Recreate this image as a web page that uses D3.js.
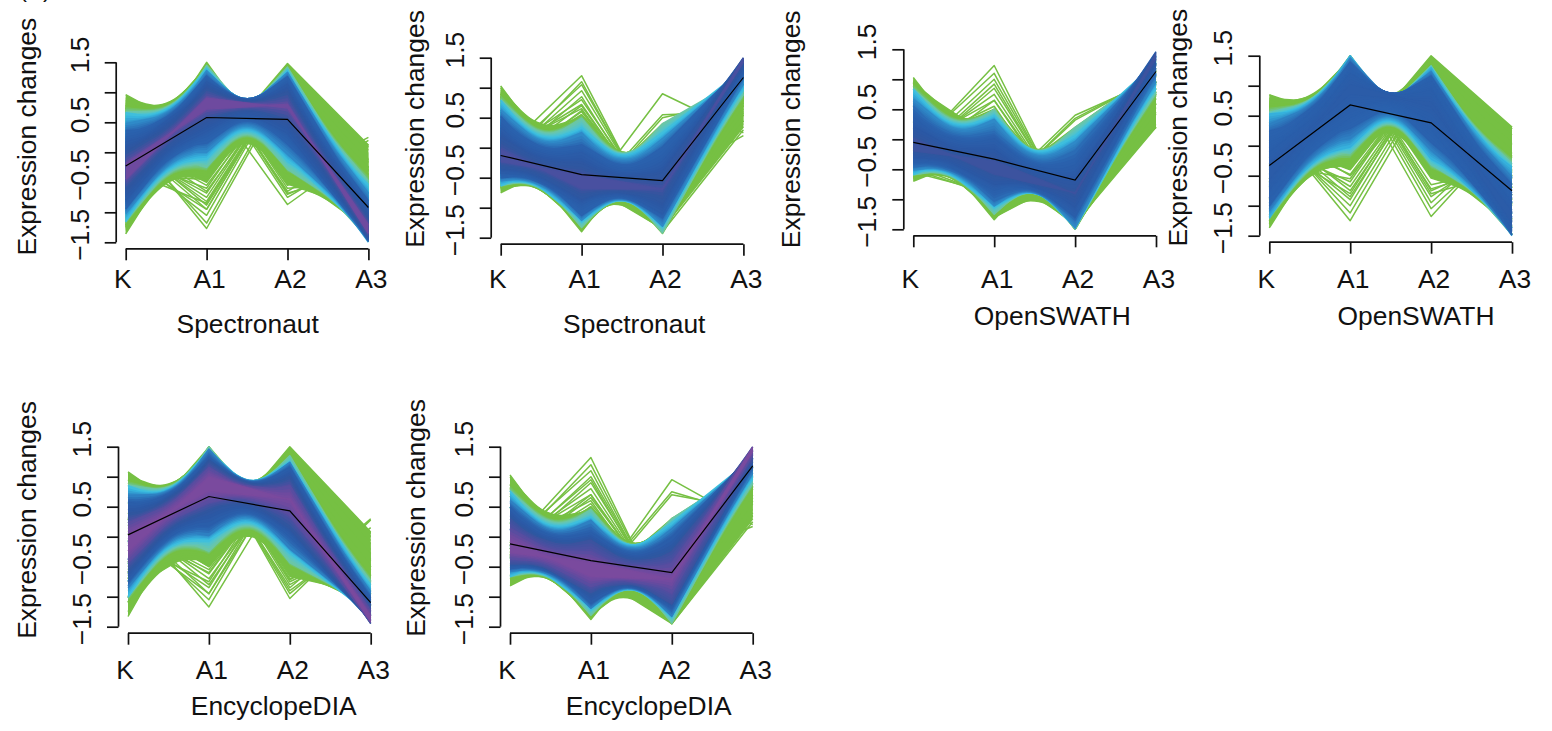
<!DOCTYPE html>
<html>
<head>
<meta charset="utf-8">
<script src="https://cdn.jsdelivr.net/npm/d3@7"></script>
<style>
  html, body { margin: 0; background: #fff; }
  text { font-family: "Liberation Sans", Arial, sans-serif; fill: #111; }
</style>
</head>
<body>
<div id="maincontainer"></div>
<script>
var stages = ["K", "A1", "A2", "A3"];
var yTicks = [-1.5, -1, -0.5, 0, 0.5, 1, 1.5];
var yLabelled = [-1.5, -0.5, 0.5, 1.5];
var yLabels = ["\u22121.5", "\u22120.5", "0.5", "1.5"];

// each row: membership, K, A1, A2, A3. rows with .3 are the stray single profiles
var spectronautUp = [
  [.98,-.45,.90,.74,-1.21],[.98,-.19,.72,.80,-1.35],
  [.9,-.37,1.07,.49,-1.23],[.9,-.63,.81,.87,-1.09],[.9,-.25,.51,1.01,-1.29],[.9,.01,.77,.63,-1.43],
  [.82,-.59,1.17,.45,-1.05],[.82,-.79,.75,.95,-.95],[.82,-.31,.35,1.13,-1.20],[.82,.17,.52,.74,-1.46],[.82,.01,1.02,.32,-1.37],
  [.74,-.29,1.27,.14,-1.15],[.74,-.80,1.19,.46,-.88],[.74,-.94,.75,.96,-.81],[.74,-.58,.29,1.26,-.99],[.74,0,.15,1.12,-1.31],[.74,.36,.45,.66,-1.49],[.74,.22,.95,.22,-1.42],
  [.66,-.55,1.36,.09,-.93],[.66,-.99,1.13,.54,-.70],[.66,-1.02,.62,1.05,-.68],[.66,-.61,.16,1.33,-.90],[.66,.01,0,1.21,-1.23],[.66,.45,.23,.76,-1.46],[.66,.48,.74,.25,-1.48],[.66,.07,1.20,-.03,-1.26],
  [.57,-.25,1.40,-.15,-1.02],[.57,-.90,1.33,.22,-.68],[.57,-1.16,.85,.82,-.54],[.57,-.90,.25,1.30,-.68],[.57,-.25,-.12,1.37,-1.02],[.57,.40,-.05,1.0,-1.36],[.57,.66,.43,.40,-1.50],[.57,.40,1.03,-.08,-1.36],
  [.5,-.62,1.45,-.10,-.76],[.5,-1.15,1.13,.46,-.48],[.5,-1.15,.49,1.10,-.48],[.5,-.62,-.07,1.42,-.76],[.5,.14,-.25,1.24,-1.16],[.5,.67,.07,.68,-1.44],[.5,.67,.71,.04,-1.44],[.5,.14,1.27,-.28,-1.16],
  [.42,-.22,1.44,-.34,-.90],[.42,-.84,1.41,-.03,-.57],[.42,-1.22,1.06,.50,-.37],[.42,-1.22,.52,1.04,-.37],[.42,-.84,-.01,1.39,-.57],[.42,-.22,-.32,1.42,-.90],[.42,.40,-.29,1.11,-1.23],[.42,.78,.06,.58,-1.43],[.42,.78,.60,.04,-1.43],[.42,.40,1.13,-.31,-1.23],
  [.34,-.55,1.50,-.37,-.60],[.34,-1.14,1.28,.13,-.29],[.34,-1.36,.77,.74,-.17],[.34,-1.14,.16,1.25,-.29],[.34,-.55,-.34,1.47,-.60],[.34,.15,-.50,1.31,-.98],[.34,.74,-.28,.81,-1.29],[.34,.96,.23,.20,-1.41],[.34,.74,.84,-.31,-1.29],[.34,.15,1.34,-.53,-.98],
  [.34,-.9,-.1,1.48,.12],[.34,-1.1,.6,.85,.12],[.34,-1.25,1.0,.3,.1],
  [.3,-.1,-.6,1.35,-.65],[.3,.1,-.75,1.3,-.65],[.3,-.3,-.85,1.28,-.13],[.3,.2,-.95,1.3,-.55],[.3,0,-1.05,1.3,-.25],[.3,.3,-1.18,1.2,-.32],[.3,.38,-1.27,1.15,-.26],[.3,-.4,-.45,1.4,-.5],[.3,.05,-.68,1.3,-.6],[.3,.22,-.88,1.25,-.55],
  [.3,-.05,-.4,1.32,-.87],[.3,.2,-.55,1.2,-.85],[.3,.1,-.48,1.3,-.9],[.3,.25,-.65,1.18,-.78],[.3,.15,-.82,1.28,-.6],[.3,-.1,-.95,1.3,-.25],
  [.3,-.9,1.0,-.87,.1],[.3,-.85,1.3,-.65,.2],[.3,-.7,1.35,-.55,-.1],[.3,-1.0,1.2,-.45,.25],[.3,-.3,1.4,-.6,-.5],[.3,-.5,1.35,-.7,-.15],[.3,-.6,1.3,-.75,.05],[.3,-.4,1.4,-.68,-.3]
];
var spectronautDown = [
  [.94,-.23,-.46,-.69,1.49],[.94,-.03,-.68,-.69,1.43],
  [.88,-.19,-.27,-.92,1.44],[.88,-.34,-.48,-.49,1.50],[.88,-.10,-.85,-.42,1.42],[.88,.17,-.64,-.85,1.36],
  [.8,-.31,-.08,-.88,1.45],[.8,-.42,-.47,-.34,1.49],[.8,-.16,-.95,-.23,1.38],[.8,.33,-.86,-.70,1.27],[.8,.16,-.33,-1.10,1.31],
  [.74,-.14,.04,-1.16,1.31],[.74,-.43,.05,-.76,1.43],[.74,-.50,-.38,-.23,1.46],[.74,-.30,-.89,.01,1.38],[.74,.16,-1.13,-.23,1.24],[.74,.52,-.89,-.74,1.16],[.74,.38,-.36,-1.17,1.19],
  [.66,-.29,.25,-1.09,1.29],[.66,-.53,.08,-.58,1.39],[.66,-.55,-.42,-.05,1.40],[.66,-.32,-.95,.15,1.31],[.66,.15,-1.21,-.07,1.17],[.66,.60,-1.04,-.58,1.07],[.66,.63,-.54,-1.11,1.06],[.66,.21,-.01,-1.31,1.15],
  [.57,-.13,.31,-1.30,1.16],[.57,-.49,.34,-.82,1.31],[.57,-.64,-.09,-.24,1.36],[.57,-.49,-.73,.25,1.31],[.57,-.13,-1.21,.22,1.16],[.57,.53,-1.24,-.26,1.01],[.57,.79,-.81,-.90,.96],[.57,.53,-.17,-1.33,1.01],
  [.5,-.33,.49,-1.12,1.18],[.5,-.63,.20,-.52,1.29],[.5,-.63,-.38,.08,1.29],[.5,-.33,-1.03,.40,1.18],[.5,.27,-1.33,.10,1.0],[.5,.80,-1.10,-.55,.89],[.5,.80,-.46,-1.19,.89],[.5,.27,.19,-1.42,1.0],
  [.42,-.11,.48,-1.36,1.02],[.42,-.45,.55,-.95,1.16],[.42,-.67,.18,-.50,1.24],[.42,-.67,-.32,0,1.24],[.42,-.45,-.87,.35,1.16],[.42,-.11,-1.28,.35,1.02],[.42,.52,-1.35,-.01,.88],[.42,.90,-1.06,-.61,.80],[.42,.90,-.53,-1.14,.80],[.42,.52,.07,-1.43,.88],
  [.34,-.30,.45,-1.21,.99],[.34,-.62,.45,-.84,1.12],[.34,-.75,-.1,-.22,1.17],[.34,-.62,-.54,.20,1.12],[.34,-.30,-1.13,.35,.99],[.34,.26,-1.40,.35,.83],[.34,.85,-1.28,-.02,.70],[.34,1.03,-.81,-.89,.65],[.34,.85,-.16,-1.36,.70],[.34,.26,.43,-1.40,.83],
  [.34,.7,-.55,-1.35,.35],[.34,.65,-1.25,-.2,.4],[.34,1.0,-.6,-.9,.45],
  [.3,-.1,1.2,-1.4,.3],[.3,-.2,1.05,-1.3,.45],[.3,-.25,.95,-1.25,.55],[.3,-.1,.8,-1.15,.45],[.3,-.3,.7,-1.2,.8],[.3,-.35,.6,-1.1,.85],[.3,.1,.5,-1.35,.75],[.3,-.05,.65,-1.3,.7],[.3,-.4,.5,-.95,.9],
  [.3,-.15,.5,-1.2,.85],[.3,-.3,.85,-1.3,.75],[.3,-.25,.55,-1.05,.75],[.3,-.4,.62,-1.0,.78],[.3,-.1,.72,-1.2,.58],[.3,-.3,1.1,-1.35,.55],
  [.3,-.25,-.9,.9,.25],[.3,-.2,-.95,.55,.6],[.3,-.3,-1.0,.5,.8],[.3,-.35,-.9,.4,.85],[.3,.85,-.6,-.55,.2]
];
var openswathDown = [
  [.92,-.19,-.36,-.91,1.43],[.92,.02,-.58,-.89,1.35],
  [.84,-.15,-.17,-1.13,1.38],[.84,-.30,-.39,-.71,1.45],[.84,-.06,-.75,-.63,1.34],[.84,.21,-.53,-1.05,1.27],
  [.78,-.27,.01,-1.08,1.40],[.78,-.37,-.38,-.55,1.46],[.78,-.12,-.85,-.43,1.32],[.78,.37,-.75,-.89,1.19],[.78,.21,-.22,-1.29,1.23],
  [.72,-.11,.13,-1.35,1.25],[.72,-.39,.12,-.96,1.40],[.72,-.46,-.30,-.44,1.43],[.72,-.27,-.81,-.19,1.33],[.72,.19,-1.03,-.41,1.17],[.72,.55,-.78,-.92,1.07],[.72,.41,-.26,-1.34,1.10],
  [.66,-.25,.33,-1.28,1.25],[.66,-.49,.16,-.78,1.38],[.66,-.51,-.35,-.25,1.38],[.66,-.28,-.86,-.04,1.27],[.66,.18,-1.11,-.24,1.09],[.66,.64,-.94,-.74,.96],[.66,.67,-.43,-1.27,.96],[.66,.25,.08,-1.48,1.07],
  [.57,-.09,.39,-1.47,1.10],[.57,-.44,.40,-1.01,1.28],[.57,-.59,-.04,-.44,1.36],[.57,-.44,-.67,.06,1.28],[.57,-.09,-1.13,.05,1.10],[.57,.57,-1.14,-.41,.92],[.57,.84,-.70,-1.04,.84],[.57,.57,-.07,-1.48,.92],
  [.5,-.30,.50,-1.29,1.15],[.5,-.59,.25,-.75,1.30],[.5,-.59,-.40,-.12,1.30],[.5,-.30,-.97,.20,1.15],[.5,.30,-1.25,-.05,.93],[.5,.84,-1.0,-.69,.78],[.5,.84,-.37,-1.32,.78],[.5,.30,.27,-1.50,.93],
  [.42,-.08,.50,-1.50,.97],[.42,-.42,.50,-1.11,1.15],[.42,-.62,.22,-.72,1.26],[.42,-.62,-.35,-.17,1.26],[.42,-.42,-.81,.20,1.15],[.42,-.08,-1.21,.15,.97],[.42,.55,-1.26,-.15,.79],[.42,.94,-.97,-.73,.68],[.42,.94,-.43,-1.27,.68],[.42,.55,.15,-1.50,.79],
  [.34,-.26,.30,-1.38,.96],[.34,-.58,.25,-.77,1.13],[.34,-.70,-.15,-.37,1.19],[.34,-.58,-.55,.03,1.13],[.34,-.26,-1.07,.13,.96],[.34,.29,-1.34,.12,.76],[.34,.89,-1.20,-.33,.59],[.34,1.03,-.72,-.98,.53],[.34,.89,-.01,-1.47,.59],[.34,.29,.30,-1.50,.76],
  [.34,.7,-.5,-1.4,.2],[.34,.5,-1.3,-.6,.25],[.34,.95,-.8,-.9,.2],
  [.3,-.2,1.23,-1.45,.42],[.3,-.15,1.1,-1.4,.45],[.3,-.25,1.0,-1.35,.6],[.3,-.3,.85,-1.3,.75],[.3,-.2,.75,-1.3,.75],[.3,-.35,.65,-1.25,.95],[.3,-.1,.55,-1.4,.95],[.3,.05,.42,-1.45,.85],
  [.3,-.25,.45,-1.1,.9],[.3,-.35,.5,-1.2,1.05],[.3,-.1,.65,-1.35,.8],[.3,-.3,.92,-1.35,.73],[.3,-.2,.35,-1.0,.85],
  [.3,-.55,-.9,.4,1.0],[.3,-.5,-.95,.35,1.05],[.3,-.45,-.95,.32,1.05],[.3,.6,-.7,-1.0,.2]
];
var openswathUp = [
  [.8,-.56,1.02,.65,-1.10],[.8,-.30,.86,.73,-1.28],
  [.78,-.48,1.20,.41,-1.13],[.78,-.73,.92,.77,-.96],[.78,-.36,.64,.93,-1.21],[.78,-.11,.92,.57,-1.38],
  [.76,-.68,1.27,.35,-.94],[.76,-.87,.83,.85,-.82],[.76,-.41,.47,1.07,-1.12],[.76,.05,.67,.71,-1.43],[.76,-.10,1.16,.27,-1.33],
  [.74,-.38,1.39,.06,-1.07],[.74,-.87,1.27,.34,-.74],[.74,-1.0,.82,.83,-.65],[.74,-.66,.39,1.16,-.88],[.74,-.10,.29,1.06,-1.26],[.74,.24,.62,.63,-1.49],[.74,.11,1.11,.18,-1.40],
  [.68,-.63,1.46,0,-.83],[.68,-1.05,1.18,.41,-.54],[.68,-1.08,.68,.93,-.53],[.68,-.68,.25,1.23,-.79],[.68,-.09,.12,1.16,-1.19],[.68,.33,.40,.75,-1.48],[.68,.36,.91,.23,-1.49],[.68,-.04,1.34,-.07,-1.23],
  [.6,-.34,1.50,-.22,-.95],[.6,-.96,1.38,.10,-.53],[.6,-1.21,.88,.68,-.36],[.6,-.96,.30,1.18,-.53],[.6,-.34,-.02,1.30,-.95],[.6,.28,.10,.98,-1.37],[.6,.53,.60,.40,-1.50],[.6,.28,1.18,-.10,-1.37],
  [.52,-.69,1.50,-.19,-.64],[.52,-1.19,1.16,.33,-.30],[.52,-1.19,.52,.97,-.30],[.52,-.69,0,1.33,-.64],[.52,.05,-.12,1.21,-1.14],[.52,.55,.24,.69,-1.48],[.52,.55,.88,.05,-1.48],[.52,.05,1.40,-.31,-1.14],
  [.42,-.30,1.50,-.40,-.83],[.42,-.89,1.45,-.13,-.43],[.42,-1.26,1.08,.37,-.18],[.42,-1.26,.54,.91,-.18],[.42,-.89,.04,1.28,-.43],[.42,-.30,-.23,1.36,-.83],[.42,.29,-.15,1.09,-1.23],[.42,.66,.22,.59,-1.48],[.42,.66,.76,.05,-1.48],[.42,.29,1.26,-.32,-1.23],
  [.34,-.60,1.50,-.43,-.51],[.34,-1.16,1.29,.02,-.13],[.34,-1.37,.76,.61,.01],[.34,-1.16,.17,1.14,-.13],[.34,-.60,-.28,1.40,-.51],[.34,.08,-.39,1.29,-.97],[.34,.64,-.13,.84,-1.35],[.34,.85,.40,.25,-1.49],[.34,.64,.99,-.28,-1.35],[.34,.08,1.44,-.54,-.97],
  [.34,-.85,-.1,1.5,.31],[.34,-1.1,.5,.9,.31],[.34,-1.3,1.1,.4,.25],
  [.3,0,-.6,1.35,-.7],[.3,.3,-.75,1.2,-.7],[.3,.2,-.9,1.3,-.55],[.3,.25,-1.0,1.2,-.4],[.3,.35,-1.12,1.15,-.35],[.3,.4,-1.25,1.05,-.2],[.3,-.3,-.55,1.35,-.45],[.3,.15,-.48,1.3,-.9],
  [.3,.1,-.4,1.3,-1.0],[.3,.3,-.5,1.1,-.9],[.3,.15,-.68,1.25,-.7],[.3,.3,-.85,1.2,-.65],[.3,0,-.8,1.3,-.5],
  [.3,-.55,1.45,-.75,-.15],[.3,-.7,1.35,-.95,.3],[.3,-.65,1.2,-1.18,.3],[.3,-.6,1.3,-1.05,.2],[.3,-.2,1.4,-.8,-.4],[.3,-.9,.9,.1,.31],[.3,-.4,1.4,-.65,-.35],[.3,-.55,1.35,-.85,.05],[.3,-.35,1.35,-.72,-.3]
];
var encyclopediaUp = [
  [1,-.24,.99,.61,-1.33],[1,.04,.77,.63,-1.41],
  [.96,-.16,1.15,.35,-1.32],[.96,-.43,.92,.76,-1.24],[.96,-.04,.57,.85,-1.36],[.96,.23,.80,.44,-1.44],
  [.9,-.39,1.27,.34,-1.21],[.9,-.59,.88,.87,-1.14],[.9,-.11,.42,1.0,-1.30],[.9,.39,.53,.55,-1.45],[.9,.23,1.05,.14,-1.40],
  [.78,-.09,1.33,0,-1.23],[.78,-.62,1.31,.37,-1.07],[.78,-.75,.88,.90,-1.02],[.78,-.39,.38,1.15,-1.14],[.78,.21,.18,.95,-1.32],[.78,.57,.43,.45,-1.44],[.78,.44,.96,.02,-1.39],
  [.68,-.37,1.46,-.01,-1.07],[.68,-.82,1.27,.49,-.93],[.68,-.85,.77,1.01,-.92],[.68,-.43,.26,1.24,-1.05],[.68,.21,.02,1.05,-1.25],[.68,.66,.21,.55,-1.39],[.68,.69,.71,.03,-1.40],[.68,.27,1.22,-.20,-1.27],
  [.57,-.08,1.45,-.27,-1.09],[.57,-.74,1.45,.18,-.88],[.57,-1.01,1.01,.81,-.80],[.57,-.74,.38,1.25,-.88],[.57,-.08,-.07,1.25,-1.09],[.57,.58,-.07,.80,-1.30],[.57,.85,.37,.17,-1.38],[.57,.58,1.0,-.27,-1.30],
  [.5,-.46,1.50,-.16,-.91],[.5,-1.0,1.28,.46,-.74],[.5,-1.0,.65,1.09,-.74],[.5,-.46,.03,1.35,-.91],[.5,.32,-.24,1.08,-1.15],[.5,.86,.02,.46,-1.32],[.5,.86,.65,-.17,-1.32],[.5,.32,1.27,-.43,-1.15],
  [.42,-.07,1.49,-.45,-.96],[.42,-.70,1.50,-.06,-.76],[.42,-1.09,1.23,.51,-.64],[.42,-1.09,.69,1.05,-.64],[.42,-.70,.12,1.35,-.76],[.42,-.07,-.27,1.31,-.96],[.42,.56,-.31,.92,-1.16],[.42,.95,-.01,.35,-1.28],[.42,.95,.53,-.19,-1.28],[.42,.56,1.10,-.49,-1.16],
  [.34,-.42,1.50,-.41,-.74],[.34,-1.02,1.43,.15,-.55],[.34,-1.25,.94,.78,-.48],[.34,-1.02,.31,1.27,-.55],[.34,-.42,-.25,1.42,-.74],[.34,.30,-.50,1.17,-.96],[.34,.90,-.35,.61,-1.15],[.34,1.08,.14,-.02,-1.22],[.34,.90,.77,-.51,-1.15],[.34,.30,1.33,-.66,-.96],
  [.34,-.9,-.1,1.5,.08],[.34,-1.1,.55,.9,.05],[.34,-1.33,1.05,.3,0],
  [.3,.1,-.6,1.25,-.75],[.3,.25,-.7,1.1,-.65],[.3,.05,-.85,1.3,-.5],[.3,.3,-.95,1.15,-.5],[.3,.2,-1.05,1.25,-.4],[.3,.4,-1.17,1.05,-.28],[.3,-.1,-.75,1.35,-.5],[.3,.15,-.55,1.2,-.8],
  [.3,.1,-.4,1.25,-.95],[.3,.3,-.5,1.1,-.9],[.3,.2,-.62,1.2,-.78],[.3,.3,-.8,1.15,-.65],[.3,.05,-.95,1.28,-.38],
  [.3,-.6,1.35,-1.03,.28],[.3,-.65,1.3,-.95,.15],[.3,-.7,1.25,-.85,.3],[.3,-.5,1.4,-.75,-.1],[.3,-.75,1.3,-.9,.08],[.3,-.45,1.35,-.7,-.2],[.3,-.55,1.38,-.8,-.05],[.3,-.6,1.3,-.72,.02]
];
var encyclopediaDown = [
  [1,-.26,-.44,-.71,1.49],[1,-.06,-.66,-.71,1.43],
  [.96,-.22,-.25,-.94,1.44],[.96,-.37,-.46,-.51,1.50],[.96,-.13,-.83,-.44,1.42],[.96,.14,-.62,-.87,1.36],
  [.92,-.34,-.06,-.90,1.45],[.92,-.45,-.45,-.36,1.49],[.92,-.19,-.93,-.25,1.38],[.92,.30,-.84,-.72,1.27],[.92,.13,-.31,-1.12,1.31],
  [.78,-.17,.06,-1.18,1.31],[.78,-.46,.07,-.78,1.43],[.78,-.53,-.36,-.25,1.46],[.78,-.33,-.87,-.01,1.38],[.78,.13,-1.11,-.25,1.24],[.78,.49,-.87,-.76,1.16],[.78,.35,-.34,-1.19,1.19],
  [.68,-.32,.27,-1.11,1.29],[.68,-.56,.10,-.60,1.39],[.68,-.58,-.40,-.07,1.40],[.68,-.35,-.93,.13,1.31],[.68,.12,-1.19,-.09,1.17],[.68,.57,-1.02,-.60,1.07],[.68,.60,-.52,-1.13,1.06],[.68,.18,.01,-1.33,1.15],
  [.57,-.16,.33,-1.32,1.16],[.57,-.52,.33,-.84,1.31],[.57,-.67,-.1,-.3,1.36],[.57,-.52,-.71,.23,1.31],[.57,-.16,-1.19,.20,1.16],[.57,.50,-1.22,-.28,1.01],[.57,.76,-.79,-.92,.96],[.57,.50,-.15,-1.35,1.01],
  [.5,-.36,.45,-1.14,1.18],[.5,-.66,.18,-.58,1.29],[.5,-.66,-.42,.02,1.29],[.5,-.36,-1.01,.30,1.18],[.5,.24,-1.31,.08,1.0],[.5,.77,-1.08,-.57,.89],[.5,.77,-.44,-1.21,.89],[.5,.24,.21,-1.44,1.0],
  [.42,-.14,.48,-1.38,1.02],[.42,-.48,.50,-.97,1.16],[.42,-.70,.13,-.53,1.24],[.42,-.70,-.38,-.02,1.24],[.42,-.48,-.85,.30,1.16],[.42,-.14,-1.26,.28,1.02],[.42,.49,-1.33,-.03,.88],[.42,.87,-1.04,-.63,.80],[.42,.87,-.51,-1.16,.80],[.42,.49,.09,-1.45,.88],
  [.34,-.33,.45,-1.23,.99],[.34,-.65,.45,-.86,1.12],[.34,-.82,-.13,-.27,1.17],[.34,-.65,-.55,.15,1.12],[.34,-.33,-1.11,.30,.99],[.34,.23,-1.38,.30,.83],[.34,.82,-1.26,-.04,.70],[.34,1.03,-.79,-.91,.65],[.34,.82,-.14,-1.38,.70],[.34,.23,.42,-1.42,.83],
  [.34,.72,-.6,-1.45,.3],[.34,.68,-1.3,-.3,.35],[.34,1.0,-.65,-.85,.4],
  [.3,-.15,1.32,-1.45,.25],[.3,-.2,1.2,-1.4,.4],[.3,-.1,1.1,-1.4,.35],[.3,-.25,1.0,-1.3,.55],[.3,-.3,.9,-1.25,.7],[.3,-.15,.8,-1.25,.6],[.3,-.35,.7,-1.2,.85],[.3,-.1,.6,-1.3,.8],[.3,-.4,.5,-1.0,.9],
  [.3,-.2,.45,-1.15,.9],[.3,-.3,.55,-1.1,.85],[.3,-.2,.95,-1.35,.6],[.3,-.1,.7,-1.25,.65],[.3,-.35,.65,-1.15,.85],[.3,-.3,.42,-.95,.83],
  [.3,-.2,-.95,.95,.2],[.3,-.25,-.85,.75,.35],[.3,-.25,-.9,.7,.45],[.3,-.3,-1.0,.3,.95],[.3,-.35,-.95,.22,1.05],[.3,-.3,-1.05,.15,1.2],[.3,.8,-.65,-.35,.17]
];

var colourStops = [.3, .42, .5, .54, .58, .66, .74, .84, .9, .95, .98, 1];
var colourValues = ["#76c043", "#76c043", "#6ac6a8", "#52c4cc", "#38bde2", "#2f8ac8", "#2a62ae", "#2b58a4", "#30569f", "#4f4ea0", "#6e4a9f", "#7a4a9e"];
var colour = d3.scaleLinear().domain(colourStops).range(colourValues);

var panels = [
  { lines: spectronautUp, centre: [-.23,.58,.55,-.92], title: "Spectronaut", left: 125.7, top: 62.3, labX: -89.7, labY: 74.3, tickY: 225.7, titleX: 122, titleY: 270.4 },
  { lines: spectronautDown, centre: [-.13,-.45,-.55,1.17], title: "Spectronaut", left: 500.7, top: 57.7, labX: -76.4, labY: 71.3, tickY: 230.3, titleX: 133.6, titleY: 275 },
  { lines: openswathDown, centre: [-.05,-.33,-.68,1.13], title: "OpenSWATH", left: 913.3, top: 49.3, labX: -113, labY: 80, tickY: 238.7, titleX: 139, titleY: 275.7 },
  { lines: openswathUp, centre: [-.33,.68,.38,-.75], title: "OpenSWATH", left: 1269.3, top: 55.7, labX: -82.6, labY: 72, tickY: 232.3, titleX: 146.7, titleY: 269.3 },
  { lines: encyclopediaUp, centre: [.03,.67,.43,-1.1], title: "EncyclopeDIA", left: 128, top: 446.7, labX: -92, labY: 73.3, tickY: 232.3, titleX: 145.7, titleY: 268.3 },
  { lines: encyclopediaDown, centre: [-.12,-.4,-.6,1.18], title: "EncyclopeDIA", left: 510, top: 446.7, labX: -85, labY: 71.3, tickY: 232.3, titleX: 138.7, titleY: 268.3 }
];

var svg = d3.select("#maincontainer").append("svg")
  .attr("width", 1552).attr("height", 731).style("display", "block");

svg.append("text").attr("x", 19).attr("y", -3.5).attr("font-size", 24).text("(A)");

var perStage = 20;

// value of a profile at stage position t (0 to 3)
function valueAt(row, t) {
  var i = Math.min(Math.floor(t), 2);
  return row[i + 1] + (row[i + 2] - row[i + 1]) * (t - i);
}

// upper and lower edge of a group of profiles, rounded off between the stages
function envelope(rows) {
  var raw = d3.range(0, 3 * perStage + 1).map(function(k) {
    var vals = rows.map(function(r) { return valueAt(r, k / perStage); });
    return { t: k / perStage, low: d3.min(vals), high: d3.max(vals) };
  });
  return raw.map(function(d, k) {
    var seg = Math.min(Math.floor(k / perStage), 2);
    var from = seg * perStage, to = from + perStage;
    if (k === from || k === to) return d;
    var w = Math.min(4, k - from, to - k);
    var near = raw.slice(k - w, k + w + 1);
    return { t: d.t, low: d3.mean(near, function(n) { return n.low; }), high: d3.mean(near, function(n) { return n.high; }) };
  });
}

panels.forEach(function(p) {
  var x = d3.scalePoint().domain(stages).range([0, 242.7]);
  var xPos = d3.scaleLinear().domain([0, 3]).range([0, 242.7]);
  var y = d3.scaleLinear().domain([-1.5, 1.5]).range([180, 0]);
  var g = svg.append("g").attr("transform", "translate(" + p.left + "," + p.top + ")");

  var line = d3.line().x(function(d, i) { return xPos(i); }).y(function(d) { return y(d); });
  var band = d3.area().x(function(d) { return xPos(d.t); })
    .y0(function(d) { return y(d.low); }).y1(function(d) { return y(d.high); });

  // low membership first, so the core ends on top
  var tiers = d3.groups(p.lines, function(d) { return d[0]; })
    .sort(function(a, b) { return a[0] - b[0]; });

  tiers.forEach(function(tier, i) {
    var m = tier[0], rows = tier[1];
    g.selectAll(null).data(rows).enter().append("path")
      .attr("fill", "none")
      .attr("stroke-linejoin", "round")
      .attr("stroke", colour(m))
      .attr("stroke-width", 1.5)
      .attr("d", function(d) { return line(d.slice(1)); });
    if (m === .3) return;

    var edge = envelope(rows);
    g.append("path").attr("fill", colour(m)).attr("d", band(edge));

    // soft steps between this group and the next one in
    if (i + 1 < tiers.length) {
      var nextEdge = envelope(tiers[i + 1][1]);
      [.25, .5, .75].forEach(function(s) {
        var mixed = edge.map(function(d, k) {
          return { t: d.t, low: d.low + (nextEdge[k].low - d.low) * s, high: d.high + (nextEdge[k].high - d.high) * s };
        });
        g.append("path").attr("fill", colour(m + (tiers[i + 1][0] - m) * s)).attr("d", band(mixed));
      });
    }
  });

  g.append("path").attr("fill", "none").attr("stroke", "#000").attr("stroke-width", 1.2)
    .attr("d", line(p.centre));

  var xAxis = g.append("g").attr("transform", "translate(0,186.5)")
    .call(d3.axisBottom(x).tickSize(11.5).tickFormat(""));
  var yAxis = g.append("g").attr("transform", "translate(-9.5,0)")
    .call(d3.axisLeft(y).tickValues(yTicks).tickSize(11.5).tickFormat(""));
  [xAxis, yAxis].forEach(function(a) {
    a.selectAll("path,line").attr("stroke", "#111").attr("stroke-width", 1.7);
  });
  xAxis.select("path").attr("d", "M0,0H242.7");
  yAxis.select("path").attr("d", "M0,0V180");

  stages.forEach(function(s) {
    g.append("text").attr("font-size", 26.4).attr("text-anchor", "middle")
      .attr("x", x(s) + (s === "K" ? -3 : 3)).attr("y", p.tickY).text(s);
  });
  yLabelled.forEach(function(v, i) {
    g.append("text").attr("font-size", 26.4).attr("text-anchor", "middle")
      .attr("transform", "translate(-37," + (y(v) - 7.5) + ") rotate(-90)").text(yLabels[i]);
  });
  g.append("text").attr("font-size", 26.4).attr("text-anchor", "middle")
    .attr("transform", "translate(" + p.labX + "," + p.labY + ") rotate(-90)").text("Expression changes");
  g.append("text").attr("font-size", 26.4).attr("text-anchor", "middle")
    .attr("x", p.titleX).attr("y", p.titleY).text(p.title);
});
</script>
</body>
</html>
